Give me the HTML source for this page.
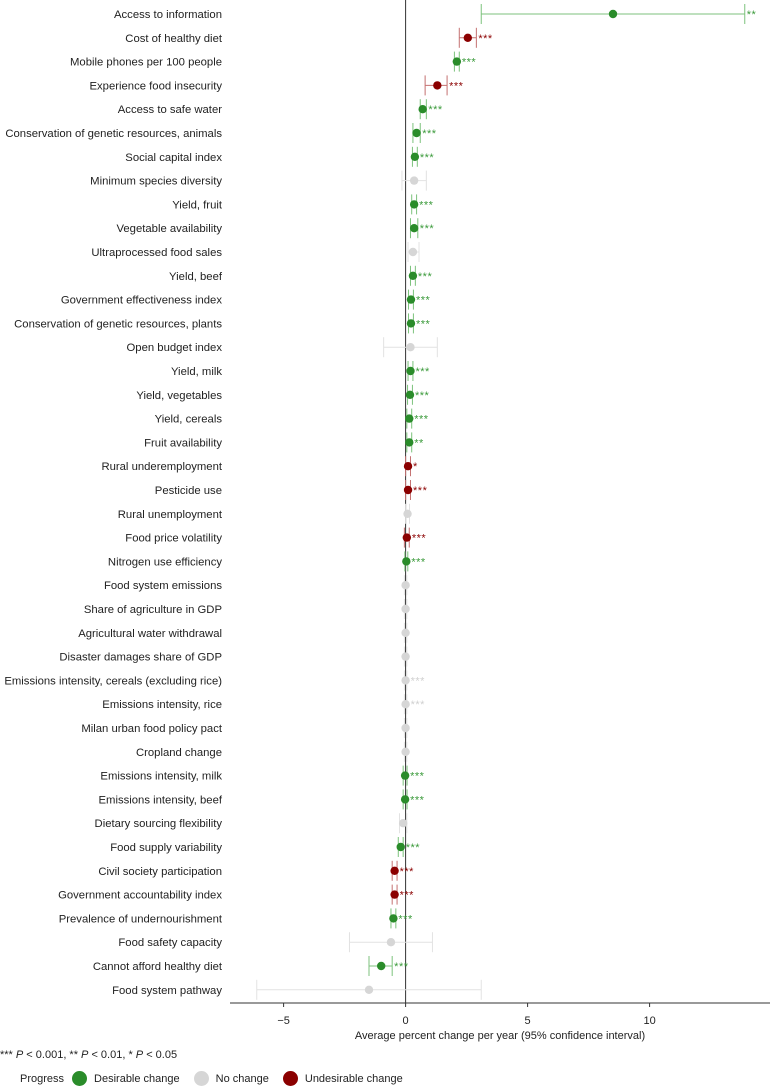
<!DOCTYPE html>
<html><head><meta charset="utf-8"><style>
body{margin:0;background:#fff;font-family:"Liberation Sans",sans-serif;}
svg{display:block}
</style></head><body>
<svg id="chart" width="770" height="1087" xmlns="http://www.w3.org/2000/svg" font-family="Liberation Sans, sans-serif"></svg>
<script>
const labels=["Access to information","Cost of healthy diet","Mobile phones per 100 people","Experience food insecurity","Access to safe water","Conservation of genetic resources, animals","Social capital index","Minimum species diversity","Yield, fruit","Vegetable availability","Ultraprocessed food sales","Yield, beef","Government effectiveness index","Conservation of genetic resources, plants","Open budget index","Yield, milk","Yield, vegetables","Yield, cereals","Fruit availability","Rural underemployment","Pesticide use","Rural unemployment","Food price volatility","Nitrogen use efficiency","Food system emissions","Share of agriculture in GDP","Agricultural water withdrawal","Disaster damages share of GDP","Emissions intensity, cereals (excluding rice)","Emissions intensity, rice","Milan urban food policy pact","Cropland change","Emissions intensity, milk","Emissions intensity, beef","Dietary sourcing flexibility","Food supply variability","Civil society participation","Government accountability index","Prevalence of undernourishment","Food safety capacity","Cannot afford healthy diet","Food system pathway"];
const estimates=[8.5,2.55,2.1,1.3,0.7,0.45,0.38,0.35,0.35,0.35,0.3,0.3,0.22,0.22,0.2,0.2,0.18,0.15,0.15,0.1,0.1,0.08,0.05,0.03,0,0,0,0,0,0,0,0,-0.02,-0.02,-0.1,-0.2,-0.45,-0.45,-0.5,-0.6,-1.0,-1.5];
const lower=[3.1,2.2,2.0,0.8,0.6,0.3,0.28,-0.15,0.25,0.2,0.1,0.2,0.12,0.12,-0.9,0.1,0.08,0.05,0.05,0.0,0.0,0.0,-0.05,-0.03,-0.05,-0.05,-0.05,-0.05,-0.05,-0.05,-0.05,-0.05,-0.1,-0.1,-0.25,-0.3,-0.55,-0.55,-0.6,-2.3,-1.5,-6.1];
const upper=[13.9,2.9,2.2,1.7,0.85,0.6,0.48,0.85,0.45,0.5,0.55,0.4,0.32,0.32,1.3,0.3,0.28,0.25,0.25,0.2,0.2,0.16,0.15,0.09,0.05,0.05,0.05,0.05,0.05,0.05,0.05,0.05,0.06,0.06,0.05,-0.1,-0.35,-0.35,-0.4,1.1,-0.55,3.1];
const status=["g","r","g","r","g","g","g","n","g","g","n","g","g","g","n","g","g","g","g","r","r","n","r","g","n","n","n","n","n","n","n","n","g","g","n","g","r","r","g","n","g","n"];
const stars=["**","***","***","***","***","***","***","","***","***","","***","***","***","","***","***","***","**","*","***","","***","***","","","","","***","***","","","***","***","","***","***","***","***","","***",""];
const ticks=[-5,0,5,10];
const svg=document.getElementById('chart');const NS="http://www.w3.org/2000/svg";
const x=v=>405.6+v*24.4;const y=i=>14+i*23.8;
const col={g:"#2a8c2a",r:"#8b0000",n:"#d6d6d6"};
const ci={g:"#7cc27c",r:"#c47070",n:"#e2e2e2"};
const star={g:"#3a9a3a",r:"#8b0000",n:"#d0d0d0"};
function el(t,a,p){const e=document.createElementNS(NS,t);for(const k in a)e.setAttribute(k,a[k]);(p||svg).appendChild(e);return e;}
const zl=el('line',{x1:405.6,x2:405.6,y1:0,y2:1003,stroke:"#333","stroke-width":1});


const ax=el('line',{x1:230,x2:770,y1:1003,y2:1003,stroke:"#333","stroke-width":1});


ticks.forEach(t=>{
 const g=el('g',{});
 
 
 el('line',{x1:x(t),x2:x(t),y1:1003,y2:1007,stroke:"#333"},g);
 const tx=el('text',{x:x(t),y:1024,"text-anchor":"middle","font-size":11,fill:"#222"},g);tx.textContent=t<0?"−"+(-t):t;
});
labels.forEach((l,i)=>{
 const yy=y(i),s=status[i];
 const t=el('text',{x:222,y:yy+4,"text-anchor":"end","font-size":11.3,fill:"#222"});t.textContent=l;
 
 
 const g=el('g',{});
 
 
 el('line',{x1:x(lower[i]),x2:x(upper[i]),y1:yy,y2:yy,stroke:ci[s],"stroke-width":1},g);
 el('line',{x1:x(lower[i]),x2:x(lower[i]),y1:yy-10,y2:yy+10,stroke:ci[s],"stroke-width":1},g);
 el('line',{x1:x(upper[i]),x2:x(upper[i]),y1:yy-10,y2:yy+10,stroke:ci[s],"stroke-width":1},g);
 el('circle',{cx:x(estimates[i]),cy:yy,r:4.2,fill:col[s]},g);
 if(stars[i]){const st=el('text',{x:Math.max(x(upper[i]),x(estimates[i])+3)+2,y:yy+4,"font-size":11,fill:star[s],"letter-spacing":"0.5"},g);st.textContent=stars[i];}
});
const at=el('text',{x:500,y:1039,"text-anchor":"middle","font-size":11,fill:"#222"});at.textContent="Average percent change per year (95% confidence interval)";


</script>
<div style="position:absolute;left:0;top:1049px;font-size:11px;color:#222">*** <i>P</i> &lt; 0.001, ** <i>P</i> &lt; 0.01, * <i>P</i> &lt; 0.05</div>
<div style="position:absolute;left:20px;top:1071px;font-size:11px;color:#222;display:flex;align-items:center;white-space:nowrap">
<span>Progress</span>
<span style="display:inline-flex;align-items:center;margin-left:8px"><span style="width:15px;height:15px;border-radius:50%;background:#2a8c2a;display:inline-block;margin-right:7px"></span>Desirable change</span>
<span style="display:inline-flex;align-items:center;margin-left:14px"><span style="width:15px;height:15px;border-radius:50%;background:#d6d6d6;display:inline-block;margin-right:7px"></span>No change</span>
<span style="display:inline-flex;align-items:center;margin-left:14px"><span style="width:15px;height:15px;border-radius:50%;background:#8b0000;display:inline-block;margin-right:7px"></span>Undesirable change</span>
</div>
</body></html>
